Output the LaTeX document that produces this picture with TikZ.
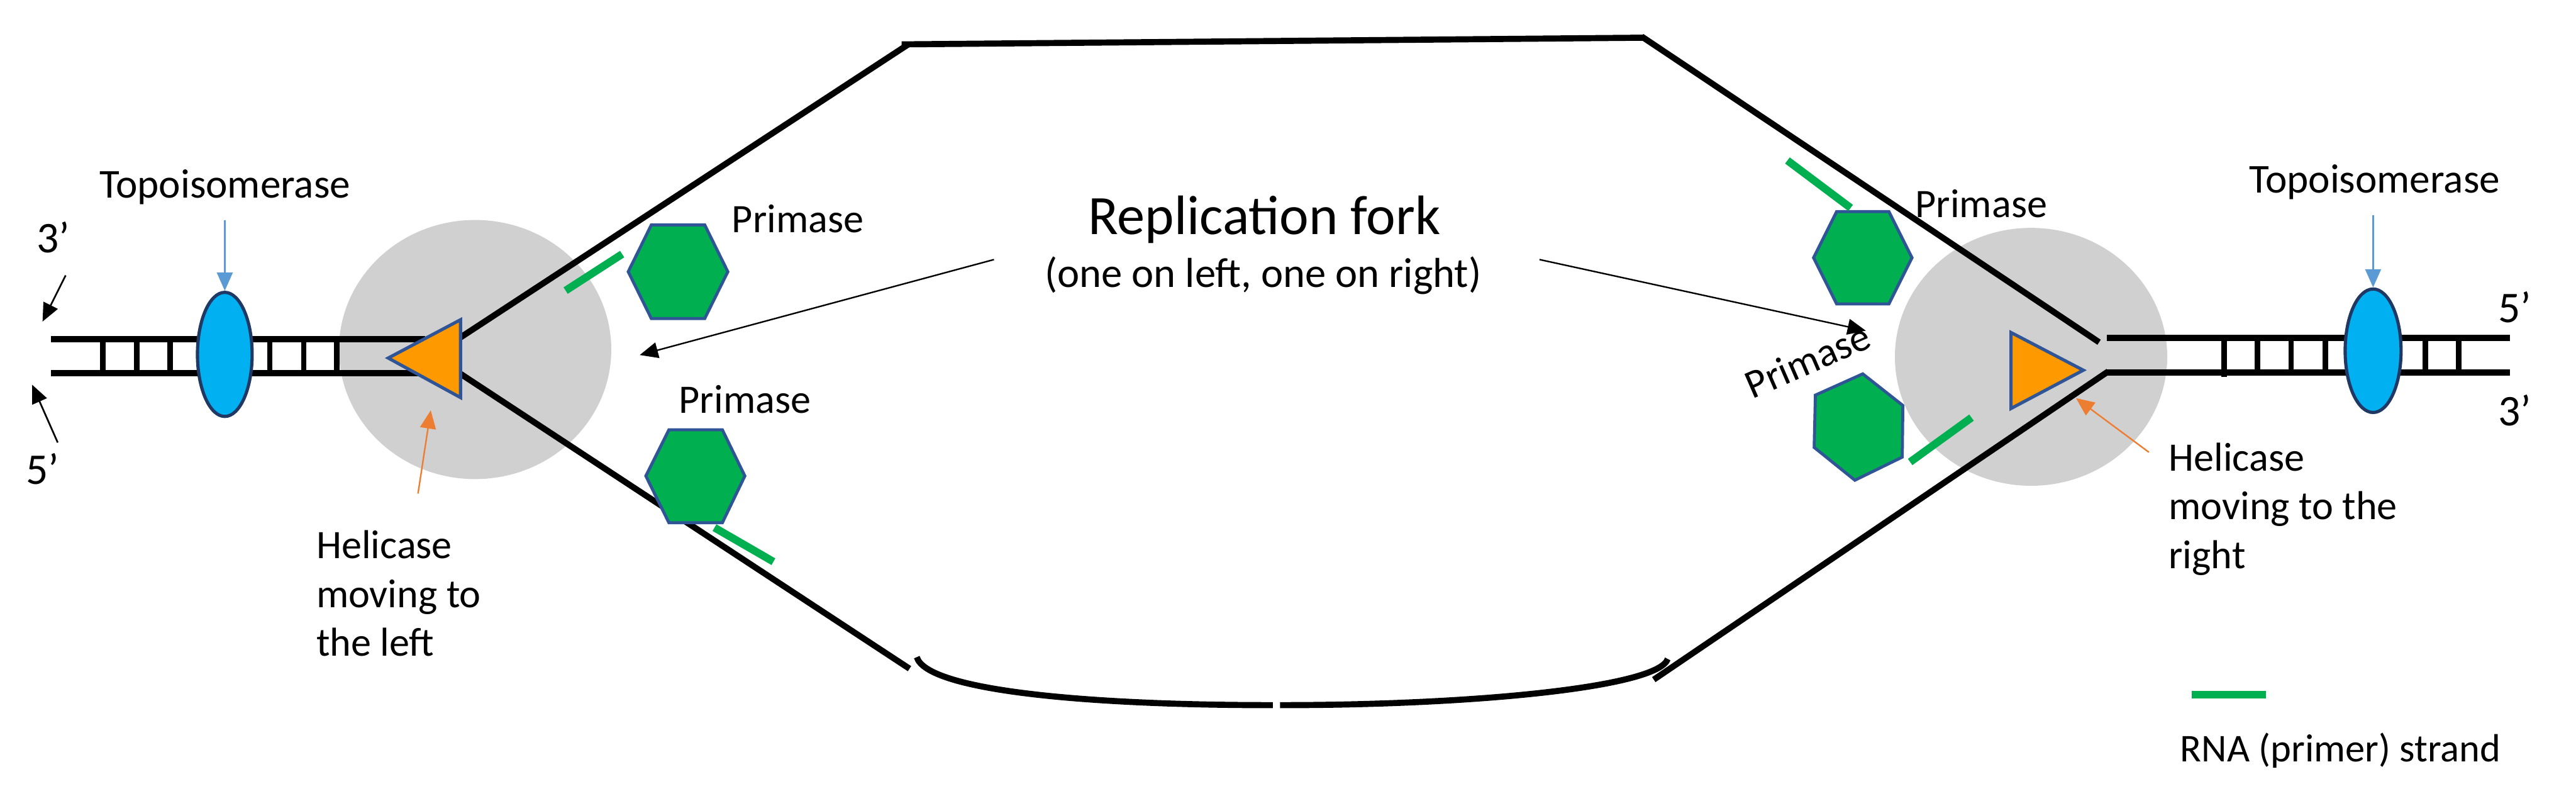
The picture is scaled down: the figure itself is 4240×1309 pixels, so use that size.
\documentclass[tikz,border=0pt]{standalone}
\usepackage{xcolor}
\usepackage{fontspec}
\setmainfont{Carlito}
\usetikzlibrary{shapes.geometric, arrows.meta}
\definecolor{helicaseColor}{RGB}{255, 153, 0}
\definecolor{primaseColor}{RGB}{0, 176, 80}
\definecolor{topoColor}{RGB}{0, 176, 240}
\definecolor{edgeColor}{RGB}{47, 85, 151}
\definecolor{topoEdge}{RGB}{31, 56, 100}
\definecolor{forkColor}{RGB}{208, 208, 208}
\definecolor{blueArrow}{RGB}{91, 155, 213}
\definecolor{orangeArrow}{RGB}{237, 125, 49}
\tikzset{
    strand/.style={line width=2.85pt, black},
    rung/.style={line width=2.6pt, black},
    rna/.style={line width=3.6pt, primaseColor},
    hexa/.style={draw=edgeColor, fill=primaseColor, line width=1.4pt, line join=miter},
    heli/.style={draw=edgeColor, fill=helicaseColor, line width=1.5pt},
    topo/.style={ellipse, draw=topoEdge, fill=topoColor, line width=1.5pt, inner sep=0pt},
    forkzone/.style={ellipse, fill=forkColor, inner sep=0pt},
    lbl/.style={anchor=base west, inner sep=0pt, font=\fontsize{18.9}{22}\selectfont},
    toplbl/.style={lbl, font=\fontsize{19.2}{22}\selectfont},
    endlbl/.style={lbl, font=\fontsize{20.5}{24}\selectfont},
    tip/.style={-{Triangle[length=0.3cm, width=0.26cm]}},
}
\begin{document}
\begin{tikzpicture}[x=0.01cm, y=-0.01cm]
    \useasboundingbox (0,0) rectangle (4240,1309);

    % Fork regions
    \node[forkzone, minimum width=4.48cm, minimum height=4.26cm] (zoneL) at (782,575) {};
    \node[forkzone, minimum width=4.48cm, minimum height=4.24cm] (zoneR) at (3343,587) {};

    % Left duplex
    \draw[strand] (84,558) -- (700,558);
    \draw[strand] (84,614) -- (700,614);
    \foreach \x in {169,225,280,444,500,554} {
        \draw[rung] (\x,558) -- (\x,612);
    }

    % Right duplex
    \draw[strand] (3468,556) -- (4131,556);
    \draw[strand] (3468,613) -- (4131,613);
    \foreach \x in {3716,3771,3827,3992,4047} {
        \draw[rung] (\x,556) -- (\x,613);
    }
    \draw[rung] (3661,560) -- (3661,620);

    % Replication bubble
    \draw[strand] (755,557) -- (1495,73);
    \draw[strand] (1484,73) -- (2706,62);
    \draw[strand] (2702,60) -- (3455,563);
    \draw[strand] (755,613) -- (1497,1100);
    \draw[strand] (3470,611) -- (2722,1118);
    \draw[line width=2.85pt] (1509,1081) .. controls (1525,1135) and (1780,1160) .. (2095,1160);
    \draw[line width=2.85pt] (2107,1160) .. controls (2430,1160) and (2730,1130) .. (2745,1084);

    % Helicase
    \draw[heli] (639,589) -- (758,526) -- (758,654) -- cycle;
    \draw[heli] (3310,547) -- (3429,609) -- (3310,672) -- cycle;

    % Primase and RNA primers
    \draw[hexa] (1034,447) -- (1072,370) -- (1160,370) -- (1198,447) -- (1160,524) -- (1072,524) -- cycle;
    \draw[hexa] (1063,783) -- (1101,707) -- (1189,707) -- (1226,783) -- (1189,860) -- (1101,860) -- cycle;
    \draw[hexa] (2985,424) -- (3023,348) -- (3109,348) -- (3147,424) -- (3109,500) -- (3023,500) -- cycle;
    \draw[hexa] (3066,615) -- (3132,667) -- (3131,752) -- (3053,790) -- (2986,736) -- (2988,650) -- cycle;
    \draw[rna] (931,478) -- (1024,418);
    \draw[rna] (1176,868) -- (1273,924);
    \draw[rna] (2942,264) -- (3046,342);
    \draw[rna] (3144,760) -- (3245,687);
    \draw[rna] (3607,1143) -- (3730,1143);

    % Topoisomerase
    \node[topo, minimum width=0.9cm, minimum height=2.04cm] (topoL) at (370,583) {};
    \node[topo, minimum width=0.92cm, minimum height=2.03cm] (topoR) at (3906,577) {};
    \node[toplbl] (topoTextL) at (163,326) {Topoisomerase};
    \node[toplbl] (topoTextR) at (3701,317) {Topoisomerase};
    \coordinate (topoFromL) at (370,362);
    \coordinate (topoFromR) at (3906,354);
    \draw[tip, blueArrow, line width=0.7pt] (topoFromL) -- (topoL.north);
    \draw[tip, blueArrow, line width=0.7pt] (topoFromR) -- (topoR.north);

    % Strand ends
    \node[endlbl] (threeL) at (60,416) {3’};
    \node[endlbl] (fiveL) at (42,797) {5’};
    \node[endlbl] (fiveR) at (4111,531) {5’};
    \node[endlbl] (threeR) at (4111,700) {3’};
    \coordinate (threeFrom) at (108,453);
    \coordinate (threeTo) at (70,529);
    \coordinate (fiveFrom) at (95,728);
    \coordinate (fiveTo) at (53,633);
    \draw[tip, line width=0.8pt] (threeFrom) -- (threeTo);
    \draw[tip, line width=0.8pt] (fiveFrom) -- (fiveTo);

    % Helicase labels
    \node[lbl] (heliL) at (520,919) {Helicase};
    \node[lbl] (heliL2) at (520,999) {moving to};
    \node[lbl] (heliL3) at (520,1079) {the left};
    \node[lbl] (heliR) at (3569,775) {Helicase};
    \node[lbl] (heliR2) at (3569,855) {moving to the};
    \node[lbl] (heliR3) at (3569,935) {right};
    \coordinate (heliFromL) at (688,812);
    \coordinate (heliToL) at (709,675);
    \coordinate (heliFromR) at (3537,744);
    \coordinate (heliToR) at (3417,655);
    \draw[tip, orangeArrow, line width=0.7pt] (heliFromL) -- (heliToL);
    \draw[tip, orangeArrow, line width=0.7pt] (heliFromR) -- (heliToR);

    % Primase labels
    \node[lbl] (primA) at (1204,382) {Primase};
    \node[lbl] (primB) at (1117,680) {Primase};
    \node[lbl] (primC) at (3152,358) {Primase};
    \coordinate (forkToR) at (3071,544);
    \coordinate (forkFromR) at (2534,427);
    \coordinate (forkFromL) at (1636,427);
    \coordinate (forkToL) at (1053,584);
    \draw[tip, line width=0.7pt] (forkFromL) -- (forkToL);
    \draw[tip, line width=0.7pt] (forkFromR) -- (forkToR);
    \node[lbl, rotate=23.5] (primD) at (2884,657) {Primase};

    % Title
    \node[anchor=base, inner sep=0pt, font=\fontsize{26}{30}\selectfont] (title) at (2081,386) {Replication fork};
    \node[anchor=base, inner sep=0pt, font=\fontsize{19.6}{22}\selectfont] (subtitle) at (2079,473) {(one on left, one on right)};

    % Legend
    \node[lbl, font=\fontsize{18.4}{22}\selectfont] (legend) at (3588,1253) {RNA (primer) strand};
\end{tikzpicture}
\end{document}
